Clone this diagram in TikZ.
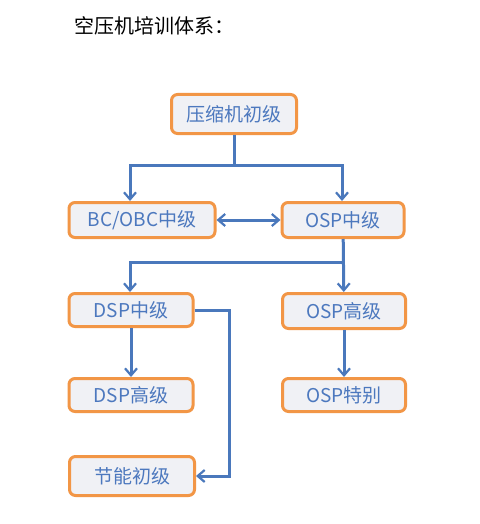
\documentclass[tikz,border=0pt]{standalone}
\usepackage{fontspec}
\setmainfont{Noto Sans CJK SC}
\usetikzlibrary{positioning, arrows.meta}
\definecolor{boxorange}{RGB}{242,150,70}
\definecolor{boxfill}{RGB}{240,241,245}
\definecolor{lineblue}{RGB}{74,120,188}
\definecolor{textblue}{RGB}{76,120,190}
\tikzset{%
    % boites du diagramme
    level/.style = {draw=boxorange, line width=3pt, fill=boxfill,
    rounded corners=6pt, text=textblue, font=\fontsize{19}{22}\selectfont,
    inner sep=0pt},
    junction/.style = {coordinate}
}
\begin{document}
\begin{tikzpicture}[x=1pt, y=-1pt]

	\tikzstyle{arc}=[-{Straight Barb[length=7pt,width=12pt,line width=2.2pt]}, line width=3pt, lineblue]
	\tikzstyle{arc2}=[{Straight Barb[length=7pt,width=12pt,line width=2.2pt]}-{Straight Barb[length=7pt,width=12pt,line width=2.2pt]}, line width=3pt, lineblue]

	\useasboundingbox[fill=white] (0,0) rectangle (479,524);

	\node[anchor=west, font=\fontsize{20}{22}\selectfont] (title) at (71,26) {空压机培训体系：};

	% placement des noeuds
	\node[level, minimum width=125pt, minimum height=39pt] (basic) at (234,114) {压缩机初级};
	\node[level, minimum width=146pt, minimum height=35pt] (bc) at (142,220) {BC/OBC中级};
	\node[level, minimum width=122pt, minimum height=35pt] (ospm) at (343,220) {OSP中级};
	\node[level, minimum width=124pt, minimum height=33pt] (dspm) at (131,310) {DSP中级};
	\node[level, minimum width=123pt, minimum height=35pt] (osph) at (344,311) {OSP高级};
	\node[level, minimum width=124pt, minimum height=33pt] (dsph) at (131,395) {DSP高级};
	\node[level, minimum width=123pt, minimum height=33pt] (ospx) at (344,395) {OSP特别};
	\node[level, minimum width=125pt, minimum height=39pt] (save) at (132,476) {节能初级};

	\node[junction] (j1) at (234,165) {};
	\node[junction] (j2) at (343,262) {};
	\node[junction] (j3) at (229,310) {};

	\draw[line width=3pt, lineblue] (basic) -- (j1);
	\draw[arc] (j1) -| ([xshift=-12pt]bc.north);
	\draw[arc] (j1) -| ([xshift=-1pt]ospm.north);
	\draw[arc2] (bc) -- (ospm);
	\draw[arc] (ospm) -- (osph);
	\draw[arc] (j2) -| ([xshift=-1pt]dspm.north);
	\draw[arc] (dspm) -- (dsph);
	\draw[arc] (osph) -- (ospx);
	\draw[arc] (dspm.east) -- (j3) |- (save.east);

\end{tikzpicture}
\end{document}
